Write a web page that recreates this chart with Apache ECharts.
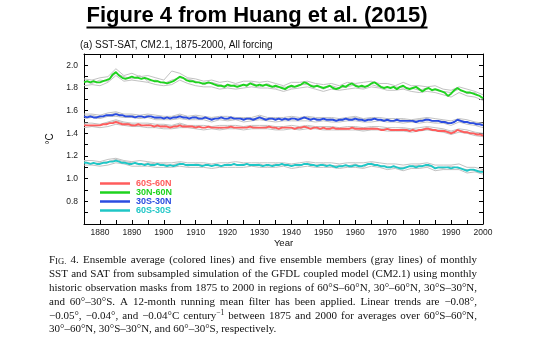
<!DOCTYPE html>
<html>
<head>
<meta charset="utf-8">
<script src="https://cdn.jsdelivr.net/npm/echarts@6/dist/echarts.min.js"></script>
<style>html,body{margin:0;padding:0;background:#fff;}#c{width:540px;height:364px;}</style>
</head>
<body>
<div id="c"></div>
<script>
// ---------- DATA ----------
const seriesNames = ['60S-60N', '30N-60N', '30S-30N', '60S-30S'];
const seriesColors = ['#ff5c5c', '#1ed31e', '#2a4ce0', '#1fc6c6'];
const xTickLabels = ['1880','1890','1900','1910','1920','1930','1940','1950','1960','1970','1980','1990','2000'];
const yTickLabels = ['0.8','1.0','1.2','1.4','1.6','1.8','2.0'];

// yearly ensemble means 1875..2000
const red60S60N = [
1.47,1.47,1.47,1.47,1.47,1.47,1.48,1.48,1.49,1.49,
1.50,1.49,1.48,1.48,1.48,1.47,1.47,1.48,1.47,1.47,
1.47,1.47,1.46,1.47,1.46,1.46,1.46,1.45,1.46,1.46,
1.47,1.46,1.46,1.46,1.46,1.45,1.46,1.45,1.45,1.46,
1.45,1.45,1.45,1.45,1.45,1.45,1.46,1.45,1.45,1.45,
1.45,1.45,1.46,1.45,1.45,1.45,1.45,1.45,1.46,1.45,
1.45,1.44,1.45,1.45,1.45,1.45,1.44,1.45,1.45,1.46,
1.45,1.44,1.45,1.45,1.44,1.45,1.44,1.44,1.45,1.44,
1.44,1.44,1.44,1.44,1.45,1.44,1.44,1.44,1.44,1.44,
1.44,1.44,1.44,1.43,1.43,1.44,1.43,1.43,1.43,1.43,
1.43,1.43,1.42,1.43,1.42,1.43,1.43,1.44,1.44,1.43,
1.43,1.42,1.42,1.42,1.41,1.40,1.41,1.43,1.42,1.41,
1.41,1.40,1.40,1.39,1.39,1.38];
const green30N60N = [
1.85,1.86,1.85,1.86,1.85,1.85,1.86,1.87,1.88,1.92,
1.94,1.91,1.89,1.88,1.89,1.90,1.89,1.89,1.88,1.89,
1.88,1.87,1.86,1.86,1.85,1.85,1.84,1.85,1.86,1.88,
1.90,1.89,1.87,1.86,1.86,1.85,1.85,1.84,1.84,1.85,
1.84,1.83,1.82,1.82,1.81,1.83,1.82,1.82,1.81,1.82,
1.83,1.82,1.84,1.83,1.82,1.83,1.82,1.83,1.82,1.81,
1.82,1.81,1.80,1.79,1.81,1.82,1.81,1.82,1.83,1.85,
1.84,1.82,1.81,1.82,1.81,1.80,1.81,1.82,1.80,1.79,
1.80,1.82,1.81,1.83,1.84,1.82,1.81,1.82,1.81,1.82,
1.84,1.85,1.83,1.81,1.80,1.81,1.80,1.81,1.79,1.81,
1.82,1.80,1.79,1.80,1.81,1.79,1.77,1.79,1.80,1.78,
1.79,1.78,1.77,1.76,1.73,1.75,1.78,1.80,1.78,1.77,
1.76,1.76,1.75,1.74,1.73,1.71];
const blue30S30N = [
1.55,1.54,1.55,1.54,1.54,1.55,1.55,1.56,1.56,1.56,
1.57,1.56,1.56,1.55,1.55,1.55,1.54,1.55,1.55,1.54,
1.55,1.55,1.54,1.54,1.54,1.53,1.54,1.53,1.54,1.54,
1.55,1.54,1.54,1.53,1.54,1.54,1.53,1.53,1.54,1.53,
1.52,1.53,1.53,1.54,1.53,1.53,1.54,1.53,1.53,1.53,
1.52,1.53,1.53,1.52,1.53,1.54,1.53,1.52,1.53,1.53,
1.52,1.53,1.52,1.53,1.52,1.53,1.53,1.52,1.53,1.54,
1.53,1.52,1.53,1.52,1.52,1.53,1.52,1.52,1.52,1.51,
1.52,1.52,1.53,1.52,1.52,1.53,1.52,1.52,1.51,1.52,
1.52,1.53,1.52,1.52,1.51,1.52,1.51,1.51,1.52,1.51,
1.51,1.51,1.51,1.51,1.50,1.51,1.51,1.52,1.52,1.51,
1.51,1.51,1.50,1.50,1.49,1.49,1.50,1.52,1.51,1.50,
1.50,1.49,1.49,1.48,1.48,1.47];
const cyan60S30S = [
1.14,1.14,1.13,1.14,1.13,1.13,1.14,1.14,1.15,1.15,
1.16,1.15,1.14,1.14,1.13,1.13,1.14,1.13,1.13,1.12,
1.13,1.12,1.12,1.13,1.12,1.12,1.11,1.12,1.11,1.12,
1.13,1.13,1.12,1.12,1.12,1.12,1.12,1.11,1.12,1.12,
1.11,1.12,1.12,1.11,1.12,1.12,1.12,1.13,1.12,1.12,
1.12,1.13,1.12,1.12,1.12,1.12,1.11,1.12,1.12,1.11,
1.12,1.12,1.13,1.12,1.12,1.11,1.12,1.12,1.12,1.13,
1.13,1.12,1.12,1.11,1.12,1.12,1.11,1.12,1.11,1.10,
1.11,1.11,1.12,1.11,1.11,1.12,1.11,1.11,1.12,1.13,
1.13,1.12,1.12,1.11,1.11,1.10,1.10,1.11,1.10,1.09,
1.09,1.10,1.11,1.11,1.10,1.11,1.11,1.12,1.12,1.11,
1.09,1.10,1.10,1.10,1.10,1.09,1.10,1.10,1.09,1.08,
1.07,1.08,1.08,1.07,1.06,1.06];

// ensemble members (gray), every 2.5 years 1875..2000
const grayGreenA = [1.88,1.87,1.89,1.90,1.97,1.91,1.93,1.90,1.91,1.89,1.87,1.95,1.93,1.89,1.88,1.86,1.87,1.85,1.86,1.84,1.86,1.86,1.85,1.86,1.84,1.82,1.85,1.85,1.86,1.84,1.83,1.84,1.82,1.85,1.84,1.85,1.86,1.84,1.84,1.82,1.85,1.82,1.82,1.81,1.82,1.79,1.78,1.81,1.79,1.77,1.74];
const grayGreenB = [1.82,1.83,1.82,1.85,1.91,1.86,1.87,1.86,1.85,1.83,1.82,1.83,1.87,1.84,1.82,1.81,1.81,1.79,1.80,1.79,1.80,1.81,1.80,1.80,1.79,1.77,1.79,1.80,1.81,1.79,1.77,1.79,1.78,1.79,1.80,1.79,1.81,1.80,1.78,1.78,1.79,1.77,1.76,1.77,1.76,1.74,1.72,1.76,1.73,1.72,1.69];
const grayGreenC = [1.86,1.84,1.87,1.86,1.93,1.90,1.88,1.91,1.86,1.87,1.84,1.87,1.89,1.88,1.86,1.83,1.85,1.83,1.81,1.83,1.82,1.85,1.81,1.84,1.80,1.81,1.80,1.83,1.83,1.82,1.79,1.82,1.80,1.81,1.83,1.80,1.83,1.81,1.80,1.81,1.80,1.80,1.78,1.80,1.78,1.77,1.76,1.79,1.75,1.76,1.70];
const grayBlueA = [1.57,1.57,1.56,1.58,1.59,1.57,1.57,1.56,1.57,1.56,1.55,1.55,1.57,1.55,1.56,1.55,1.54,1.55,1.55,1.54,1.54,1.54,1.56,1.54,1.54,1.54,1.55,1.54,1.55,1.54,1.54,1.54,1.53,1.54,1.55,1.53,1.54,1.54,1.53,1.53,1.53,1.52,1.53,1.54,1.53,1.52,1.51,1.53,1.52,1.50,1.49];
const grayBlueB = [1.53,1.54,1.53,1.55,1.55,1.54,1.54,1.53,1.54,1.52,1.52,1.52,1.53,1.52,1.52,1.52,1.50,1.52,1.51,1.52,1.50,1.51,1.52,1.51,1.50,1.51,1.51,1.51,1.51,1.50,1.51,1.50,1.50,1.51,1.51,1.50,1.50,1.51,1.50,1.50,1.49,1.50,1.49,1.50,1.49,1.49,1.47,1.50,1.48,1.47,1.45];
const grayBlueC = [1.55,1.56,1.54,1.56,1.58,1.55,1.56,1.54,1.56,1.53,1.54,1.54,1.56,1.53,1.55,1.53,1.53,1.54,1.52,1.53,1.53,1.52,1.55,1.52,1.53,1.52,1.54,1.52,1.54,1.53,1.52,1.53,1.51,1.53,1.54,1.52,1.53,1.52,1.52,1.51,1.52,1.51,1.52,1.53,1.50,1.51,1.49,1.52,1.50,1.49,1.48];
const grayRedA = [1.49,1.49,1.48,1.50,1.52,1.50,1.49,1.49,1.49,1.48,1.48,1.47,1.49,1.47,1.47,1.47,1.46,1.47,1.47,1.47,1.46,1.47,1.47,1.47,1.46,1.46,1.47,1.46,1.47,1.46,1.46,1.46,1.45,1.46,1.46,1.45,1.46,1.46,1.45,1.45,1.45,1.44,1.45,1.46,1.45,1.44,1.42,1.44,1.43,1.41,1.40];
const grayRedB = [1.45,1.46,1.45,1.46,1.48,1.47,1.46,1.46,1.45,1.45,1.44,1.44,1.45,1.45,1.44,1.43,1.44,1.43,1.44,1.44,1.43,1.44,1.44,1.44,1.43,1.43,1.44,1.43,1.44,1.44,1.43,1.43,1.43,1.43,1.43,1.42,1.43,1.43,1.42,1.42,1.42,1.41,1.42,1.43,1.42,1.41,1.39,1.41,1.40,1.38,1.37];
const grayRedC = [1.48,1.46,1.47,1.49,1.51,1.49,1.48,1.46,1.48,1.46,1.47,1.46,1.48,1.46,1.46,1.45,1.46,1.44,1.46,1.45,1.45,1.46,1.45,1.46,1.44,1.45,1.45,1.44,1.46,1.45,1.44,1.45,1.44,1.44,1.45,1.43,1.45,1.44,1.44,1.43,1.44,1.43,1.43,1.45,1.43,1.43,1.41,1.43,1.41,1.40,1.39];
const grayCyanA = [1.16,1.16,1.15,1.17,1.18,1.16,1.15,1.16,1.15,1.14,1.14,1.14,1.15,1.14,1.14,1.14,1.13,1.14,1.14,1.15,1.14,1.14,1.14,1.14,1.14,1.14,1.13,1.14,1.15,1.14,1.14,1.14,1.13,1.14,1.14,1.14,1.15,1.14,1.13,1.13,1.12,1.13,1.13,1.14,1.12,1.12,1.12,1.13,1.10,1.10,1.08];
const grayCyanB = [1.12,1.12,1.11,1.12,1.14,1.13,1.11,1.11,1.11,1.10,1.10,1.10,1.11,1.10,1.10,1.10,1.09,1.10,1.10,1.10,1.10,1.11,1.10,1.10,1.10,1.11,1.09,1.10,1.11,1.10,1.10,1.10,1.09,1.10,1.10,1.09,1.11,1.10,1.08,1.09,1.07,1.09,1.09,1.10,1.07,1.08,1.08,1.08,1.05,1.06,1.04];
const grayCyanC = [1.15,1.13,1.14,1.15,1.17,1.15,1.14,1.12,1.14,1.13,1.13,1.12,1.14,1.11,1.13,1.12,1.12,1.11,1.13,1.12,1.13,1.12,1.13,1.11,1.13,1.12,1.12,1.11,1.14,1.12,1.13,1.11,1.12,1.11,1.13,1.10,1.14,1.11,1.11,1.10,1.10,1.11,1.12,1.11,1.10,1.09,1.11,1.09,1.08,1.07,1.07];

const captionLines = [
 'FIG. 4. Ensemble average (colored lines) and five ensemble members (gray lines) of monthly',
 'SST and SAT from subsampled simulation of the GFDL coupled model (CM2.1) using monthly',
 'historic observation masks from 1875 to 2000 in regions of 60°S–60°N, 30°–60°N, 30°S–30°N,',
 'and 60°–30°S. A 12-month running mean filter has been applied. Linear trends are −0.08°,',
 '−0.05°, −0.04°, and −0.04°C century^−1 between 1875 and 2000 for averages over 60°S–60°N,',
 '30°–60°N, 30°S–30°N, and 60°–30°S, respectively.'
];

// ---------- BUILD ----------
const years = []; for (let y = 1875; y <= 2000; y++) years.push(y);
const grayYears = []; for (let k = 0; k <= 50; k++) grayYears.push(1875 + 2.5 * k);
const pair = (xs, vs) => vs.map((v, i) => [xs[i], v]);

const grays = [grayGreenA, grayGreenB, grayGreenC, grayBlueA, grayBlueB, grayBlueC,
               grayRedA, grayRedB, grayRedC, grayCyanA, grayCyanB, grayCyanC];
const means = [red60S60N, green30N60N, blue30S30N, cyan60S30S];

const series = [];
grays.forEach((g, i) => series.push({
  type: 'line', name: 'member' + i, data: pair(grayYears, g), symbol: 'none', silent: true,
  lineStyle: { color: '#c2c2c2', width: 1 }, z: 1
}));
means.forEach((m, i) => series.push({
  type: 'line', name: seriesNames[i], data: pair(years, m), symbol: 'none',
  lineStyle: { color: seriesColors[i], width: 1.9 }, itemStyle: { color: seriesColors[i] }, z: 3
}));

// caption with justified lines
const ctx = document.createElement('canvas').getContext('2d');
const serif = s => s + 'px "Liberation Serif", "Times New Roman", serif';
const meas = (t, s) => { ctx.font = serif(s); return ctx.measureText(t).width; };
const pieces = w => {
  if (w === 'FIG.') return [['F', 11, 0], ['IG.', 8.6, 0]];
  if (w.indexOf('^') >= 0) { const p = w.split('^'); return [[p[0], 11, 0], [p[1], 7.5, -4]]; }
  return [[w, 11, 0]];
};
const capLeft = 49, capRight = 477, capBase = 266, capLH = 13.8;
const graphics = [];
captionLines.forEach((line, i) => {
  const ws = line.split(' ').map(pieces);
  const widths = ws.map(p => p.reduce((s, q) => s + meas(q[0], q[1]), 0));
  const total = widths.reduce((a, b) => a + b, 0);
  const justify = i < captionLines.length - 1;
  const gap = justify ? (capRight - capLeft - total) / (ws.length - 1) : meas(' ', 11);
  let x = capLeft;
  const y = capBase + i * capLH;
  ws.forEach((p, j) => {
    let px = x;
    p.forEach(q => {
      graphics.push({ type: 'text', x: px, y: y + q[2], silent: true,
        style: { text: q[0], font: serif(q[1]), fill: '#111', align: 'left', verticalAlign: 'bottom' } });
      px += meas(q[0], q[1]);
    });
    x += widths[j] + gap;
  });
});

// main title with underline
const titleText = 'Figure 4 from Huang et al. (2015)';
const titleFont = 'bold 22px "Liberation Sans", Arial, sans-serif';
ctx.font = titleFont;
const tw = ctx.measureText(titleText).width;
const tcx = 257;
graphics.push({ type: 'text', x: tcx, y: 16, silent: true,
  style: { text: titleText, font: titleFont, fill: '#000', align: 'center', verticalAlign: 'middle' } });
graphics.push({ type: 'line', silent: true, shape: { x1: tcx - tw / 2, y1: 27.5, x2: tcx + tw / 2, y2: 27.5 },
  style: { stroke: '#000', lineWidth: 2 } });

const axisFont = { fontSize: 8.5, color: '#222', fontFamily: '"Liberation Sans", Arial, sans-serif' };
const axisLineStyle = { show: true, lineStyle: { color: '#000', width: 1 } };
const tickStyle = { show: true, inside: true, length: 4, lineStyle: { color: '#000', width: 1 } };

const option = {
  animation: false,
  backgroundColor: '#fff',
  title: {
    text: '(a) SST-SAT, CM2.1, 1875-2000, All forcing', left: 80, top: 40, padding: 0,
    textStyle: { fontSize: 10, fontWeight: 'normal', color: '#111', fontFamily: '"Liberation Sans", Arial, sans-serif' }
  },
  legend: {
    data: seriesNames.map((n, i) => ({ name: n, textStyle: { color: seriesColors[i] } })),
    orient: 'vertical', left: 100, top: 179, padding: 0, itemGap: 0,
    itemWidth: 30, itemHeight: 2.5, icon: 'rect',
    textStyle: { fontSize: 9, fontWeight: 'bold', lineHeight: 9, fontFamily: '"Liberation Sans", Arial, sans-serif', padding: [0, 0, 0, 1] }
  },
  grid: { left: 84, right: 57, top: 54, bottom: 140 },
  xAxis: [
    { type: 'value', position: 'bottom', min: 1875, max: 2000, interval: 5,
      axisLine: axisLineStyle, axisTick: tickStyle, splitLine: { show: false },
      axisLabel: Object.assign({ margin: 4, formatter: v => (xTickLabels.indexOf(String(v)) >= 0 ? String(v) : '') }, axisFont),
      name: 'Year', nameLocation: 'middle', nameGap: 13,
      nameTextStyle: { fontSize: 9.5, color: '#111', fontFamily: '"Liberation Sans", Arial, sans-serif' } },
    { type: 'value', position: 'top', min: 1875, max: 2000, interval: 5,
      axisLine: axisLineStyle, axisTick: tickStyle, splitLine: { show: false }, axisLabel: { show: false } }
  ],
  yAxis: [
    { type: 'value', position: 'left', min: 0.6, max: 2.1, interval: 0.1,
      axisLine: axisLineStyle, axisTick: tickStyle, splitLine: { show: false },
      axisLabel: Object.assign({ margin: 6, formatter: v => { const s = (Math.round(v * 10) / 10).toFixed(1); return yTickLabels.indexOf(s) >= 0 ? s : ''; } }, axisFont),
      name: '°C', nameLocation: 'middle', nameGap: 21,
      nameTextStyle: { fontSize: 10, color: '#111', fontFamily: '"Liberation Sans", Arial, sans-serif' } },
    { type: 'value', position: 'right', min: 0.6, max: 2.1, interval: 0.1,
      axisLine: axisLineStyle, axisTick: tickStyle, splitLine: { show: false }, axisLabel: { show: false } }
  ],
  series: series,
  graphic: graphics
};

const chart = echarts.init(document.getElementById('c'), null, { renderer: 'canvas' });
chart.setOption(option);
</script>
</body>
</html>
